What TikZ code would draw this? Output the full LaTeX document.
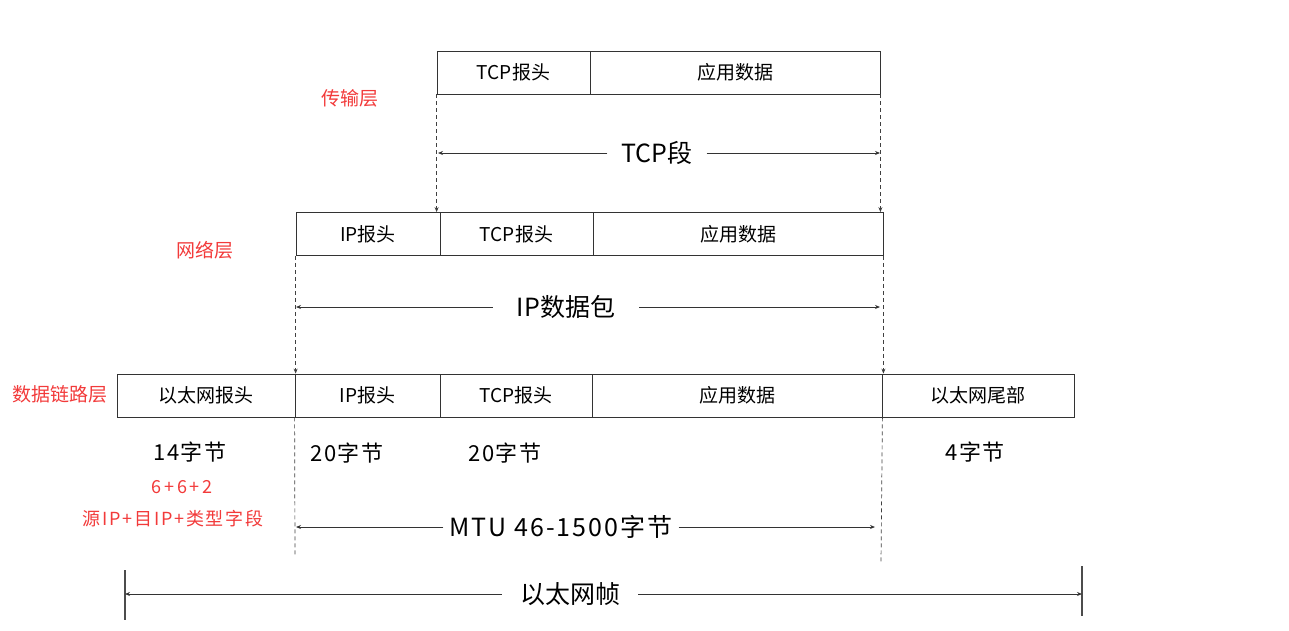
\documentclass[tikz,border=0pt]{standalone}
\usepackage{fontspec}
\setmainfont{Noto Sans CJK SC}
\usetikzlibrary{arrows.meta}
\definecolor{layerred}{HTML}{F23A3A}
\begin{document}
\begin{tikzpicture}[x=1pt,y=-1pt,
  cell/.style={draw=black!80, line width=0.8pt, inner sep=0pt, minimum height=43pt,
    font=\fontsize{19}{19}\selectfont},
  biglabel/.style={inner ysep=0pt, font=\fontsize{25}{25}\selectfont},
  sizelabel/.style={font=\fontsize{22}{22}\selectfont\addfontfeatures{LetterSpace=6}},
  layer/.style={text=layerred, font=\fontsize{19}{19}\selectfont},
  note/.style={text=layerred, font=\fontsize{18}{18}\selectfont\addfontfeatures{LetterSpace=10}},
  guide/.style={draw=black!75, line width=0.7pt, dashed, dash pattern=on 4pt off 3pt},
  guidetip/.style={guide, -{Stealth[length=5pt,width=4pt]}},
  dim/.style={draw=black!80, line width=0.8pt, -{Stealth[length=5pt,width=4pt]}},
  bar/.style={draw=black!70, line width=1.2pt}]
\useasboundingbox (0,0) rectangle (1289,630);

% transport layer: TCP segment
\node[cell, minimum width=153pt] (t1) at (513.5,72.5) {TCP报头};
\node[cell, minimum width=290pt] (t2) at (735,72.5) {应用数据};

% network layer: IP packet
\node[cell, minimum width=144pt] (n1) at (368,234) {IP报头};
\node[cell, minimum width=153pt] (n2) at (516.5,234) {TCP报头};
\node[cell, minimum width=290pt] (n3) at (738,234) {应用数据};

% data link layer: Ethernet frame
\node[cell, minimum width=178pt] (e1) at (206,395.5) {以太网报头};
\node[cell, minimum width=145pt] (e2) at (367.5,395.5) {IP报头};
\node[cell, minimum width=152pt] (e3) at (516,395.5) {TCP报头};
\node[cell, minimum width=290pt] (e4) at (737,395.5) {应用数据};
\node[cell, minimum width=192pt] (e5) at (978,395.5) {以太网尾部};

% layer names
\node[layer] (lt) at (350,98) {传输层};
\node[layer] (ln) at (205,250) {网络层};
\node[layer] (ll) at (60,394) {数据链路层};

% encapsulation guides
\draw[guidetip] (t1.south west) -- (t1.south west |- n2.north);
\draw[guidetip] (t2.south east) -- (t2.south east |- n3.north);
\draw[guidetip] (n1.south west) -- (n1.south west |- e2.north);
\draw[guidetip] (n3.south east) -- (n3.south east |- e4.north);
\coordinate (mtuLb) at (295,556);
\coordinate (mtuRb) at (881,562);
\draw[guide] (e2.south west) -- (mtuLb);
\draw[guide] (e4.south east) -- (mtuRb);

% TCP segment span
\coordinate (tcpL) at (438,153);
\coordinate (tcpR) at (880,153);
\node[biglabel, inner xsep=14pt] (tcplab) at (657,153) {TCP段};
\draw[dim] (tcplab.west) -- (tcpL);
\draw[dim] (tcplab.east) -- (tcpR);

% IP packet span
\coordinate (ipL) at (296,307);
\coordinate (ipR) at (880,307);
\node[biglabel, inner xsep=24pt] (iplab) at (566,307) {IP数据包};
\draw[dim] (iplab.west) -- (ipL);
\draw[dim] (iplab.east) -- (ipR);

% field sizes
\node[sizelabel] (s1) at (190,452) {14字节};
\node[sizelabel] (s2) at (347,453) {20字节};
\node[sizelabel] (s3) at (505,453) {20字节};
\node[sizelabel] (s4) at (975,452) {4字节};
\node[note, font=\fontsize{18}{18}\selectfont\addfontfeatures{LetterSpace=16}] (d1) at (182,487) {6+6+2};
\node[note] (d2) at (173,519) {源IP+目IP+类型字段};

% MTU span
\coordinate (mtuL) at (296,527);
\coordinate (mtuR) at (875,527);
\node[biglabel, inner xsep=6pt, font=\fontsize{25}{25}\selectfont\addfontfeatures{LetterSpace=8}] (mtulab) at (561,527) {MTU 46-1500字节};
\draw[dim] (mtulab.west) -- (mtuL);
\draw[dim] (mtulab.east) -- (mtuR);

% Ethernet frame span
\coordinate (frL) at (125,594);
\coordinate (frR) at (1082,594);
\coordinate (frLt) at (125,570);
\coordinate (frLb) at (125,620);
\coordinate (frRt) at (1082,566);
\coordinate (frRb) at (1082,616);
\draw[bar] (frLt) -- (frLb);
\draw[bar] (frRt) -- (frRb);
\node[biglabel, inner xsep=18pt] (frlab) at (570,594) {以太网帧};
\draw[dim] (frlab.west) -- (frL);
\draw[dim] (frlab.east) -- (frR);
\end{tikzpicture}
\end{document}
